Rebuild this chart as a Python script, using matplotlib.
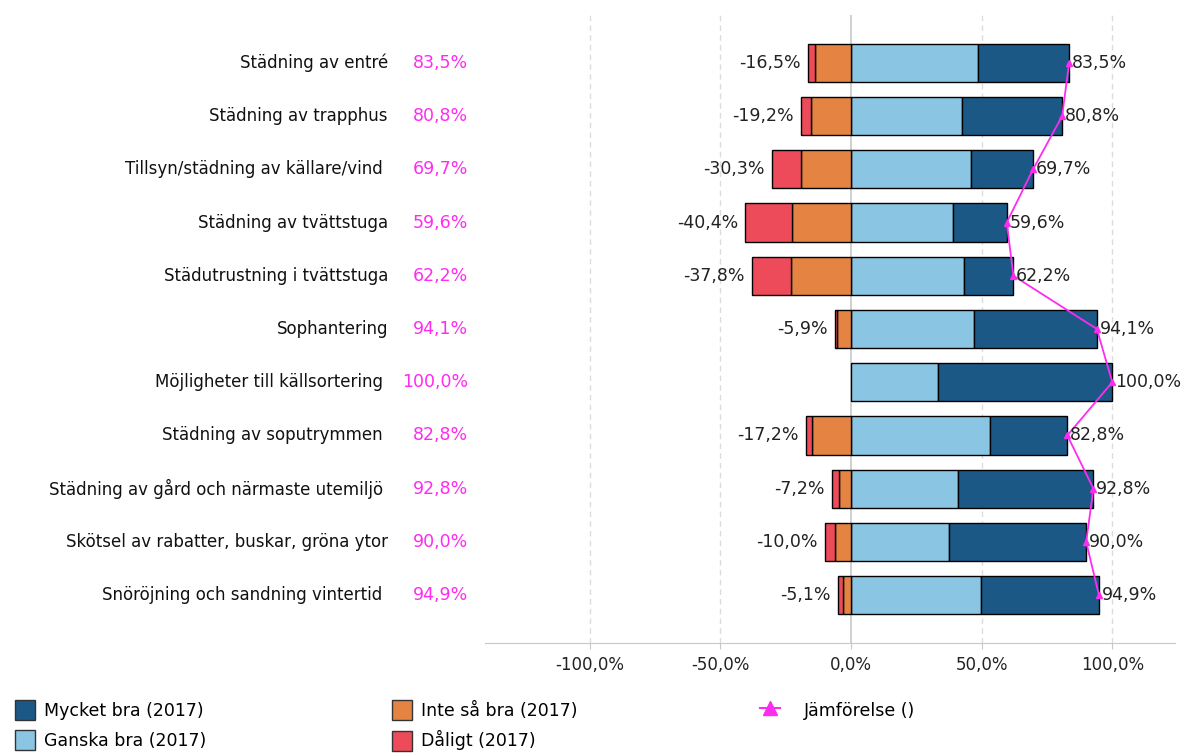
import numpy as np
import matplotlib.pyplot as plt
from matplotlib.patches import Patch
from matplotlib.lines import Line2D

# categories, top to bottom
categories = [
    "Städning av entré",
    "Städning av trapphus",
    "Tillsyn/städning av källare/vind ",
    "Städning av tvättstuga",
    "Städutrustning i tvättstuga",
    "Sophantering",
    "Möjligheter till källsortering ",
    "Städning av soputrymmen ",
    "Städning av gård och närmaste utemiljö ",
    "Skötsel av rabatter, buskar, gröna ytor",
    "Snöröjning och sandning vintertid ",
]

# shares in percent (2017)
mycket_bra = [35.0, 38.3, 23.9, 20.4, 19.1, 46.9, 66.5, 29.5, 51.7, 52.3, 45.0]
ganska_bra = [48.5, 42.5, 45.8, 39.2, 43.1, 47.2, 33.5, 53.3, 41.1, 37.7, 49.9]
inte_sa_bra = [13.6, 15.1, 19.0, 22.5, 23.1, 5.4, 0.0, 15.0, 4.7, 6.1, 2.9]
daligt = [2.9, 4.1, 11.3, 17.9, 14.7, 0.5, 0.0, 2.2, 2.5, 3.9, 2.2]

# totals shown as labels
positive_total = [83.5, 80.8, 69.7, 59.6, 62.2, 94.1, 100.0, 82.8, 92.8, 90.0, 94.9]
negative_total = [16.5, 19.2, 30.3, 40.4, 37.8, 5.9, 0.0, 17.2, 7.2, 10.0, 5.1]

xticks = [-100, -50, 0, 50, 100]

c_mycket = "#1b5886"
c_ganska = "#8ac6e3"
c_inte = "#e58442"
c_dalig = "#ed4b59"
c_pink = "#ff2bf0"


def fmt(v):
    return f"{v:.1f}".replace(".", ",") + "%"


fig = plt.figure(figsize=(11.88, 7.54), dpi=100)
ax = fig.add_axes([485 / 1188, 111 / 754, 690 / 1188, 628 / 754])

y = np.arange(len(categories))
h = 0.72
mb = np.array(mycket_bra)
gb = np.array(ganska_bra)
ib = np.array(inte_sa_bra)
db = np.array(daligt)

ax.barh(y, gb, height=h, color=c_ganska, edgecolor="black", linewidth=1, zorder=3)
ax.barh(y, mb, left=gb, height=h, color=c_mycket, edgecolor="black", linewidth=1, zorder=3)
neg = ib + db > 0
ax.barh(y[neg], -ib[neg], height=h, color=c_inte, edgecolor="black", linewidth=1, zorder=3)
ax.barh(y[neg], -db[neg], left=-ib[neg], height=h, color=c_dalig, edgecolor="black", linewidth=1, zorder=3)

# comparison line
ax.plot(positive_total, y, color=c_pink, lw=1.3, marker="^", ms=5, zorder=5)

# value labels
for i in range(len(categories)):
    ax.text(positive_total[i] + 1.0, y[i], fmt(positive_total[i]), va="center", ha="left",
            fontsize=12.5, color="#222222", zorder=6)
    if negative_total[i] > 0:
        ax.text(-negative_total[i] - 2.8, y[i], fmt(-negative_total[i]), va="center", ha="right",
                fontsize=12.5, color="#222222", zorder=6)
    ax.text(-0.1406, y[i], categories[i], transform=ax.get_yaxis_transform(),
            ha="right", va="center", fontsize=12, color="#111111")
    ax.text(-0.0246, y[i], fmt(positive_total[i]), transform=ax.get_yaxis_transform(),
            ha="right", va="center", fontsize=12.5, color=c_pink)

ax.set_xlim(-140, 124)
ax.set_ylim(len(categories) - 0.1, -0.9)
ax.set_xticks(xticks)
ax.set_xticklabels([fmt(t) for t in xticks], fontsize=12, color="#222222")
ax.set_yticks([])
for t in xticks:
    if t == 0:
        ax.axvline(t, color="#c8c8c8", lw=1.2, zorder=1)
    else:
        ax.axvline(t, color="#dcdcdc", lw=1, ls=(0, (4, 3)), zorder=1)
for s in ["top", "right", "left"]:
    ax.spines[s].set_visible(False)
ax.spines["bottom"].set_color("#c8c8c8")
ax.tick_params(axis="x", length=4, color="#c8c8c8", pad=5)

# legend, three columns placed by hand
leg_kw = dict(frameon=False, fontsize=12.5, handlelength=1.15, handleheight=1.4,
              labelspacing=0.6, borderaxespad=0, loc="upper left")
top = 1 - 693 / 754
fig.legend(handles=[Patch(facecolor=c_mycket, edgecolor="#333333", label="Mycket bra (2017)"),
                    Patch(facecolor=c_ganska, edgecolor="#333333", label="Ganska bra (2017)")],
           bbox_to_anchor=(8 / 1188, top), handletextpad=0.55, **leg_kw)
fig.legend(handles=[Patch(facecolor=c_inte, edgecolor="#333333", label="Inte så bra (2017)"),
                    Patch(facecolor=c_dalig, edgecolor="#333333", label="Dåligt (2017)")],
           bbox_to_anchor=(385 / 1188, top), handletextpad=0.55, **leg_kw)
fig.legend(handles=[Line2D([0], [0], color=c_pink, lw=1.5, marker="^", ms=10,
                           label="Jämförelse ()")],
           bbox_to_anchor=(753 / 1188, top), handletextpad=1.4, **leg_kw)

fig.savefig("out.png", dpi=100)
